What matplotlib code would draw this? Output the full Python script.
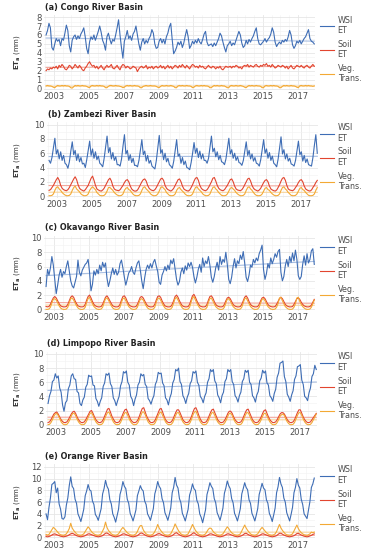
import numpy as np
import matplotlib.pyplot as plt
from matplotlib.ticker import MultipleLocator

# monthly values, Jul 2002 .. Dec 2017 (one row per year)
congo_wsi = [
    6.0, 6.5, 7.3, 6.8, 4.6, 4.3,
    5.0, 5.6, 5.3, 5.5, 4.8, 5.6, 5.4, 6.2, 7.1, 6.5, 4.8, 4.1,
    5.4, 5.8, 6.0, 5.5, 5.9, 5.6, 6.1, 6.4, 6.8, 5.8, 4.5, 3.9,
    5.2, 5.8, 5.5, 6.0, 5.4, 5.9, 6.4, 7.0, 6.3, 5.4, 5.0, 4.3,
    5.8, 6.2, 5.5, 5.0, 5.5, 5.3, 6.0, 6.8, 7.7, 6.0, 4.6, 3.4,
    5.3, 5.8, 6.5, 5.6, 5.9, 5.4, 6.1, 6.4, 7.0, 6.0, 5.0, 4.3,
    5.2, 5.6, 5.0, 5.4, 5.1, 5.6, 5.9, 6.6, 6.2, 5.0, 4.5, 4.6,
    5.3, 5.6, 5.1, 5.5, 5.0, 5.8, 6.2, 6.9, 7.3, 5.5, 3.9, 4.2,
    4.6, 5.2, 4.9, 5.3, 4.6, 5.1, 5.9, 6.6, 5.8, 4.5, 4.8, 5.3,
    5.0, 5.4, 5.1, 5.6, 5.2, 5.0, 5.5, 6.1, 6.4, 5.2, 4.8, 4.9,
    5.0, 4.7, 5.1, 4.8, 5.2, 5.6, 6.2, 5.9, 5.2, 4.6, 4.1, 4.8,
    5.0, 5.3, 4.8, 5.1, 4.9, 5.4, 5.9, 6.4, 6.0, 5.1, 4.6, 4.8,
    5.4, 5.0, 5.5, 5.2, 5.6, 5.9, 6.4, 6.8, 5.6, 5.0, 4.9, 5.1,
    5.3, 5.6, 5.2, 5.5, 5.7, 6.1, 6.8, 6.3, 5.2, 4.7, 5.0, 5.2,
    5.0, 5.4, 5.2, 5.5, 5.3, 5.8, 6.5, 6.0, 4.9, 4.5, 4.8, 5.3,
    5.1, 5.4, 5.0, 5.3, 5.6, 5.8, 6.2, 6.6, 5.6, 5.3, 5.2, 5.0,
]
congo_soil = [
    2.0, 2.2, 2.1, 2.3, 2.2, 2.4,
    2.3, 2.5, 2.2, 2.6, 2.4, 2.7, 2.5, 2.2, 2.1, 2.3, 2.6, 2.5,
    2.2, 2.4, 2.7, 2.5, 2.3, 2.6, 2.4, 2.1, 2.0, 2.3, 2.5, 2.8,
    3.0, 2.7, 2.5, 2.6, 2.3, 2.5, 2.2, 2.4, 2.6, 2.3, 2.1, 2.4,
    2.6, 2.4, 2.5, 2.7, 2.3, 2.2, 2.4, 2.6, 2.3, 2.1, 2.5, 2.7,
    2.6, 2.3, 2.5, 2.4, 2.2, 2.3, 2.5, 2.4, 2.3, 1.9, 2.2, 2.4,
    2.5, 2.3, 2.4, 2.6, 2.2, 2.4, 2.3, 2.5, 2.2, 2.4, 2.5, 2.3,
    2.4, 2.6, 2.3, 2.5, 2.2, 2.4, 2.6, 2.3, 2.5, 2.2, 2.4, 2.6,
    2.5, 2.3, 2.6, 2.4, 2.7, 2.5, 2.3, 2.6, 2.4, 2.2, 2.5, 2.7,
    2.6, 2.4, 2.5, 2.3, 2.6, 2.4, 2.5, 2.3, 2.2, 2.4, 2.6, 2.4,
    2.3, 2.5, 2.4, 2.2, 2.4, 2.3, 2.5, 2.2, 2.1, 2.3, 2.5, 2.4,
    2.4, 2.5, 2.3, 2.5, 2.4, 2.6, 2.5, 2.3, 2.4, 2.2, 2.5, 2.6,
    2.5, 2.7, 2.4, 2.6, 2.5, 2.4, 2.6, 2.7, 2.5, 2.4, 2.6, 2.5,
    2.7, 2.6, 2.8, 2.5, 2.6, 2.4, 2.7, 2.5, 2.3, 2.4, 2.6, 2.5,
    2.4, 2.6, 2.5, 2.3, 2.5, 2.2, 2.4, 2.6, 2.3, 2.2, 2.4, 2.6,
    2.5, 2.4, 2.6, 2.4, 2.3, 2.5, 2.6, 2.4, 2.3, 2.5, 2.7, 2.5,
]
congo_veg = [
    0.3, 0.35, 0.3, 0.3, 0.25, 0.15,
    0.1, 0.25, 0.35, 0.3, 0.3, 0.35, 0.3, 0.35, 0.3, 0.3, 0.25, 0.1,
    0.05, 0.2, 0.35, 0.3, 0.35, 0.3, 0.3, 0.35, 0.3, 0.3, 0.25, 0.15,
    0.1, 0.3, 0.35, 0.3, 0.3, 0.35, 0.3, 0.35, 0.3, 0.3, 0.25, 0.1,
    0.1, 0.25, 0.35, 0.35, 0.3, 0.3, 0.35, 0.3, 0.3, 0.25, 0.2, 0.1,
    0.15, 0.3, 0.35, 0.3, 0.35, 0.3, 0.3, 0.35, 0.3, 0.3, 0.25, 0.1,
    0.1, 0.25, 0.3, 0.35, 0.3, 0.3, 0.35, 0.3, 0.3, 0.3, 0.25, 0.15,
    0.1, 0.25, 0.35, 0.3, 0.3, 0.35, 0.3, 0.3, 0.35, 0.3, 0.25, 0.1,
    0.1, 0.3, 0.35, 0.3, 0.35, 0.3, 0.3, 0.35, 0.3, 0.3, 0.25, 0.1,
    0.15, 0.3, 0.35, 0.3, 0.3, 0.35, 0.3, 0.35, 0.3, 0.3, 0.25, 0.1,
    0.1, 0.25, 0.35, 0.3, 0.35, 0.3, 0.3, 0.35, 0.3, 0.3, 0.2, 0.1,
    0.1, 0.3, 0.35, 0.3, 0.3, 0.35, 0.3, 0.3, 0.35, 0.3, 0.25, 0.15,
    0.1, 0.25, 0.35, 0.3, 0.35, 0.3, 0.3, 0.35, 0.3, 0.3, 0.25, 0.1,
    0.1, 0.3, 0.35, 0.3, 0.3, 0.35, 0.3, 0.35, 0.3, 0.3, 0.25, 0.1,
    0.1, 0.25, 0.35, 0.3, 0.35, 0.3, 0.3, 0.35, 0.3, 0.3, 0.25, 0.15,
    0.1, 0.3, 0.35, 0.3, 0.3, 0.35, 0.3, 0.35, 0.3, 0.3, 0.25, 0.3,
]

zambezi_wsi = [
    5.0, 4.6, 5.4, 6.8, 8.1, 5.9,
    6.5, 5.2, 6.2, 5.0, 5.7, 4.6, 4.4, 3.9, 4.8, 6.3, 7.6, 5.8,
    6.4, 5.0, 5.9, 4.8, 5.4, 4.5, 4.6, 4.0, 5.1, 6.4, 7.7, 5.7,
    6.6, 5.3, 6.2, 5.1, 5.6, 4.6, 4.4, 4.1, 5.3, 6.9, 8.4, 6.1,
    6.8, 5.2, 6.1, 5.0, 5.5, 4.4, 4.4, 4.2, 5.2, 7.0, 8.6, 5.9,
    6.4, 5.0, 5.8, 4.7, 5.3, 4.3, 4.3, 4.1, 5.0, 6.5, 7.9, 5.8,
    6.3, 4.9, 5.7, 4.6, 5.0, 4.2, 4.0, 3.8, 5.0, 6.8, 8.5, 6.0,
    6.5, 5.1, 6.0, 4.8, 5.3, 4.4, 4.2, 3.9, 4.9, 6.4, 7.9, 5.6,
    5.9, 4.6, 5.4, 4.4, 4.9, 4.0, 3.9, 3.7, 4.7, 6.0, 7.5, 6.0,
    6.7, 5.4, 6.3, 5.2, 5.9, 5.0, 5.0, 4.6, 5.3, 6.8, 8.4, 6.2,
    6.7, 5.5, 6.2, 5.1, 5.7, 4.8, 4.7, 4.4, 5.2, 6.6, 8.1, 5.9,
    6.5, 5.3, 6.0, 5.0, 5.5, 4.7, 4.6, 4.3, 5.0, 6.3, 7.6, 5.7,
    6.4, 5.2, 5.9, 4.9, 5.4, 4.6, 4.5, 4.2, 5.1, 6.5, 7.9, 6.0,
    6.6, 5.3, 6.1, 5.0, 5.6, 4.6, 4.4, 4.1, 5.2, 6.8, 8.3, 5.9,
    6.5, 5.2, 5.9, 4.9, 5.3, 4.5, 4.4, 4.2, 5.0, 6.3, 7.7, 5.8,
    6.2, 4.9, 5.7, 4.7, 5.2, 4.4, 4.3, 4.2, 5.4, 7.1, 8.6, 6.0,
]
zambezi_soil = [
    0.8, 0.9, 1.2, 1.5, 1.9, 2.3,
    2.6, 2.2, 1.5, 1.1, 0.9, 0.8, 0.75, 0.9, 1.2, 1.6, 2.0, 2.4,
    2.7, 2.3, 1.6, 1.1, 0.9, 0.8, 0.7, 0.9, 1.2, 1.5, 2.0, 2.5,
    2.8, 2.2, 1.5, 1.0, 0.85, 0.75, 0.7, 0.85, 1.1, 1.5, 1.9, 2.3,
    2.5, 2.1, 1.4, 1.0, 0.85, 0.8, 0.75, 0.9, 1.2, 1.5, 1.9, 2.2,
    2.3, 2.0, 1.4, 1.0, 0.8, 0.7, 0.7, 0.85, 1.2, 1.6, 2.0, 2.3,
    2.4, 2.1, 1.5, 1.1, 0.9, 0.8, 0.75, 0.9, 1.2, 1.6, 2.0, 2.4,
    2.5, 2.2, 1.5, 1.1, 0.9, 0.8, 0.7, 0.85, 1.1, 1.5, 1.9, 2.3,
    2.4, 2.0, 1.4, 1.0, 0.85, 0.75, 0.7, 0.85, 1.2, 1.6, 2.1, 2.5,
    2.6, 2.2, 1.5, 1.1, 0.9, 0.8, 0.75, 0.9, 1.2, 1.6, 2.0, 2.5,
    2.6, 2.1, 1.5, 1.1, 0.9, 0.8, 0.75, 0.9, 1.2, 1.5, 1.9, 2.3,
    2.4, 2.0, 1.4, 1.0, 0.85, 0.8, 0.75, 0.9, 1.2, 1.6, 2.0, 2.4,
    2.5, 2.1, 1.5, 1.1, 0.9, 0.8, 0.7, 0.85, 1.1, 1.5, 1.9, 2.2,
    2.3, 2.0, 1.4, 1.0, 0.85, 0.75, 0.7, 0.85, 1.2, 1.6, 2.1, 2.5,
    2.6, 2.2, 1.5, 1.0, 0.85, 0.8, 0.75, 0.9, 1.2, 1.5, 1.9, 2.2,
    2.3, 2.0, 1.4, 1.0, 0.85, 0.75, 0.7, 0.85, 1.2, 1.5, 1.9, 2.2,
]
zambezi_veg = [
    0.05, 0.05, 0.1, 0.3, 0.8, 1.2,
    1.3, 1.0, 0.8, 0.5, 0.3, 0.15, 0.05, 0.05, 0.1, 0.3, 0.8, 1.2,
    1.4, 1.0, 0.8, 0.6, 0.3, 0.15, 0.05, 0.05, 0.1, 0.3, 0.8, 1.1,
    1.3, 1.1, 0.9, 0.5, 0.3, 0.1, 0.05, 0.05, 0.1, 0.3, 0.7, 1.2,
    1.2, 1.0, 0.8, 0.5, 0.3, 0.15, 0.05, 0.05, 0.1, 0.3, 0.8, 1.1,
    1.2, 0.9, 0.8, 0.5, 0.25, 0.1, 0.05, 0.05, 0.1, 0.3, 0.8, 1.2,
    1.3, 1.0, 0.8, 0.6, 0.3, 0.15, 0.05, 0.05, 0.1, 0.3, 0.7, 1.2,
    1.3, 1.1, 0.9, 0.5, 0.3, 0.1, 0.05, 0.05, 0.1, 0.3, 0.8, 1.1,
    1.2, 0.9, 0.7, 0.5, 0.25, 0.1, 0.05, 0.05, 0.1, 0.3, 0.8, 1.2,
    1.3, 1.0, 0.8, 0.6, 0.3, 0.15, 0.05, 0.05, 0.1, 0.3, 0.8, 1.2,
    1.3, 1.0, 0.8, 0.5, 0.3, 0.1, 0.05, 0.05, 0.1, 0.3, 0.7, 1.1,
    1.2, 1.0, 0.8, 0.5, 0.3, 0.15, 0.05, 0.05, 0.1, 0.3, 0.8, 1.2,
    1.3, 1.0, 0.8, 0.5, 0.25, 0.1, 0.05, 0.05, 0.1, 0.3, 0.7, 1.1,
    1.2, 0.9, 0.8, 0.5, 0.3, 0.15, 0.05, 0.05, 0.1, 0.3, 0.8, 1.2,
    1.3, 1.0, 0.8, 0.5, 0.3, 0.1, 0.05, 0.05, 0.1, 0.3, 0.7, 1.1,
    1.2, 0.9, 0.8, 0.5, 0.3, 0.1, 0.05, 0.05, 0.1, 0.3, 0.8, 1.2,
]

okavango_wsi = [
    3.2, 5.6, 4.8, 5.8, 7.4, 6.2,
    4.2, 2.2, 3.4, 4.8, 5.6, 4.5, 5.3, 5.0, 6.0, 6.8, 5.4, 4.0,
    3.3, 3.0, 3.8, 4.6, 6.9, 5.2, 4.7, 5.5, 5.9, 6.3, 6.5, 7.0,
    5.2, 2.6, 3.5, 5.4, 4.8, 5.6, 5.0, 6.2, 5.4, 6.6, 5.9, 6.5,
    4.4, 3.2, 4.0, 5.0, 5.8, 4.9, 5.6, 4.8, 5.2, 6.4, 6.9, 5.8,
    4.5, 3.4, 4.2, 5.1, 5.4, 6.0, 5.2, 4.9, 5.8, 6.5, 6.8, 5.5,
    4.0, 2.9, 4.4, 5.6, 6.2, 5.7, 6.4, 5.8, 6.6, 7.0, 6.1, 5.3,
    3.8, 3.5, 4.8, 5.3, 6.0, 5.4, 6.2, 5.6, 6.9, 6.4, 7.1, 5.6,
    4.2, 3.4, 3.9, 5.2, 5.8, 5.0, 6.1, 5.5, 6.5, 6.0, 6.6, 5.9,
    4.6, 3.7, 4.5, 5.6, 6.3, 5.2, 7.2, 6.0, 6.8, 6.4, 7.4, 6.2,
    4.5, 3.8, 4.6, 5.8, 6.6, 5.5, 7.4, 6.3, 7.0, 6.6, 8.0, 6.3,
    4.2, 3.6, 4.5, 6.0, 7.1, 5.8, 6.8, 6.4, 7.6, 7.0, 8.1, 6.5,
    4.5, 3.9, 4.8, 6.2, 5.9, 7.0, 6.5, 7.2, 6.8, 7.8, 8.3, 9.0,
    5.6, 4.2, 5.0, 6.4, 5.8, 7.2, 6.4, 7.0, 7.8, 7.3, 8.1, 8.4,
    5.2, 4.0, 4.6, 6.1, 7.0, 6.0, 7.4, 6.6, 7.9, 6.8, 8.3, 7.0,
    4.7, 4.2, 4.6, 6.3, 7.5, 6.2, 7.8, 6.5, 7.0, 8.2, 8.5, 6.3,
]
okavango_soil = [
    0.4, 0.35, 0.4, 0.7, 1.2, 1.6,
    1.8, 1.6, 1.2, 0.8, 0.5, 0.4, 0.35, 0.35, 0.4, 0.7, 1.2, 1.7,
    1.9, 1.7, 1.2, 0.8, 0.5, 0.4, 0.35, 0.35, 0.4, 0.7, 1.3, 1.8,
    2.0, 1.6, 1.1, 0.7, 0.5, 0.4, 0.35, 0.35, 0.4, 0.7, 1.2, 1.7,
    1.9, 1.6, 1.2, 0.8, 0.5, 0.4, 0.35, 0.35, 0.4, 0.7, 1.3, 1.8,
    1.9, 1.6, 1.1, 0.7, 0.5, 0.4, 0.35, 0.35, 0.4, 0.7, 1.2, 1.7,
    1.8, 1.6, 1.2, 0.8, 0.5, 0.4, 0.35, 0.35, 0.4, 0.7, 1.3, 1.8,
    1.9, 1.7, 1.2, 0.8, 0.5, 0.4, 0.35, 0.35, 0.4, 0.7, 1.2, 1.8,
    2.0, 1.7, 1.2, 0.8, 0.5, 0.4, 0.35, 0.35, 0.4, 0.7, 1.3, 1.9,
    2.1, 1.7, 1.2, 0.8, 0.5, 0.4, 0.35, 0.35, 0.4, 0.7, 1.3, 1.8,
    1.9, 1.6, 1.1, 0.7, 0.5, 0.4, 0.35, 0.35, 0.4, 0.7, 1.2, 1.6,
    1.7, 1.5, 1.1, 0.7, 0.5, 0.4, 0.35, 0.35, 0.4, 0.7, 1.2, 1.7,
    1.9, 1.6, 1.1, 0.7, 0.5, 0.4, 0.35, 0.35, 0.4, 0.7, 1.2, 1.6,
    1.7, 1.5, 1.1, 0.7, 0.5, 0.4, 0.35, 0.35, 0.4, 0.7, 1.1, 1.5,
    1.7, 1.5, 1.1, 0.7, 0.5, 0.4, 0.35, 0.35, 0.4, 0.7, 1.1, 1.5,
    1.6, 1.4, 1.0, 0.7, 0.5, 0.4, 0.35, 0.35, 0.4, 0.6, 1.0, 1.4,
]
okavango_veg = [
    0.0, 0.0, 0.05, 0.3, 0.9, 1.4,
    1.5, 1.3, 0.9, 0.5, 0.2, 0.05, 0.0, 0.0, 0.05, 0.3, 0.9, 1.5,
    1.6, 1.3, 0.9, 0.5, 0.2, 0.05, 0.0, 0.0, 0.05, 0.3, 1.0, 1.5,
    1.7, 1.2, 0.8, 0.4, 0.2, 0.05, 0.0, 0.0, 0.05, 0.3, 0.9, 1.5,
    1.6, 1.3, 0.9, 0.5, 0.2, 0.05, 0.0, 0.0, 0.05, 0.3, 1.0, 1.5,
    1.6, 1.2, 0.8, 0.4, 0.2, 0.05, 0.0, 0.0, 0.05, 0.3, 0.9, 1.4,
    1.5, 1.3, 0.9, 0.5, 0.2, 0.05, 0.0, 0.0, 0.05, 0.3, 1.0, 1.5,
    1.6, 1.3, 0.9, 0.5, 0.2, 0.05, 0.0, 0.0, 0.05, 0.3, 0.9, 1.5,
    1.7, 1.3, 0.9, 0.5, 0.2, 0.05, 0.0, 0.0, 0.05, 0.3, 1.0, 1.6,
    1.8, 1.3, 0.9, 0.5, 0.2, 0.05, 0.0, 0.0, 0.05, 0.3, 1.0, 1.5,
    1.6, 1.2, 0.8, 0.4, 0.2, 0.05, 0.0, 0.0, 0.05, 0.3, 0.9, 1.4,
    1.5, 1.2, 0.8, 0.4, 0.2, 0.05, 0.0, 0.0, 0.05, 0.3, 0.9, 1.5,
    1.6, 1.2, 0.8, 0.4, 0.2, 0.05, 0.0, 0.0, 0.05, 0.3, 0.9, 1.4,
    1.5, 1.2, 0.8, 0.4, 0.2, 0.05, 0.0, 0.0, 0.05, 0.3, 0.8, 1.6,
    1.7, 1.2, 0.8, 0.4, 0.2, 0.05, 0.0, 0.0, 0.05, 0.3, 0.8, 1.6,
    1.7, 1.1, 0.7, 0.4, 0.2, 0.05, 0.0, 0.0, 0.05, 0.3, 0.8, 1.3,
]

limpopo_wsi = [
    3.0, 4.1, 4.7, 6.1, 6.3, 7.2,
    6.6, 6.9, 5.2, 4.6, 2.8, 1.9, 3.1, 3.4, 5.1, 5.6, 6.9, 7.2,
    6.5, 6.4, 4.7, 4.5, 3.0, 2.7, 3.5, 3.9, 5.3, 5.7, 7.0, 6.8,
    6.9, 5.6, 5.5, 3.7, 3.3, 2.6, 3.3, 3.8, 5.4, 5.9, 7.2, 7.0,
    7.3, 5.8, 5.4, 3.8, 3.4, 2.7, 3.4, 4.0, 5.5, 6.1, 7.5, 7.3,
    7.6, 6.0, 5.6, 4.0, 3.6, 2.7, 3.6, 4.2, 5.6, 6.0, 7.2, 6.9,
    7.1, 5.7, 5.4, 3.7, 3.4, 2.9, 3.6, 4.1, 5.7, 6.2, 7.4, 7.2,
    7.3, 5.9, 5.5, 3.8, 3.5, 2.8, 3.8, 4.4, 5.9, 6.4, 7.8, 7.6,
    8.0, 6.1, 5.7, 4.1, 3.7, 3.0, 3.9, 4.4, 5.8, 6.2, 7.5, 7.3,
    7.6, 6.0, 5.6, 4.0, 3.7, 3.1, 4.0, 4.5, 6.0, 6.5, 7.8, 7.5,
    7.8, 6.2, 5.8, 4.2, 3.8, 3.1, 4.1, 4.6, 6.1, 6.5, 7.8, 7.5,
    7.8, 6.1, 5.7, 4.1, 3.8, 3.2, 4.1, 4.6, 6.1, 6.5, 7.7, 7.4,
    7.7, 6.0, 5.7, 4.1, 3.8, 3.2, 4.2, 4.7, 6.2, 6.6, 7.7, 7.3,
    7.6, 5.9, 5.6, 4.1, 3.8, 3.3, 4.4, 5.0, 6.7, 7.3, 8.7, 8.8,
    9.0, 6.8, 6.1, 4.3, 3.9, 3.3, 4.2, 4.8, 6.4, 6.9, 8.2, 8.3,
    8.5, 6.3, 5.7, 4.0, 3.8, 3.4, 4.5, 5.2, 6.8, 7.2, 8.4, 7.8,
]
limpopo_soil = [
    0.3, 0.4, 0.7, 1.1, 1.5, 1.7,
    1.8, 1.5, 1.1, 0.7, 0.45, 0.3, 0.3, 0.4, 0.7, 1.1, 1.5, 1.8,
    1.9, 1.6, 1.1, 0.7, 0.45, 0.3, 0.3, 0.4, 0.7, 1.1, 1.5, 1.9,
    2.0, 1.6, 1.1, 0.7, 0.45, 0.3, 0.3, 0.4, 0.7, 1.2, 1.7, 2.2,
    2.3, 1.8, 1.2, 0.8, 0.45, 0.3, 0.3, 0.4, 0.7, 1.2, 1.7, 2.1,
    2.2, 1.7, 1.2, 0.7, 0.45, 0.3, 0.3, 0.4, 0.7, 1.2, 1.8, 2.3,
    2.4, 1.8, 1.2, 0.8, 0.45, 0.3, 0.3, 0.4, 0.7, 1.2, 1.7, 2.2,
    2.3, 1.8, 1.2, 0.7, 0.45, 0.3, 0.3, 0.4, 0.7, 1.2, 1.7, 2.1,
    2.1, 1.7, 1.2, 0.7, 0.45, 0.3, 0.3, 0.4, 0.7, 1.2, 1.8, 2.3,
    2.4, 1.9, 1.3, 0.8, 0.45, 0.3, 0.3, 0.4, 0.7, 1.2, 1.7, 2.1,
    2.2, 1.7, 1.2, 0.7, 0.45, 0.3, 0.3, 0.4, 0.7, 1.1, 1.6, 1.9,
    1.9, 1.6, 1.1, 0.7, 0.45, 0.3, 0.3, 0.4, 0.7, 1.2, 1.7, 2.1,
    2.2, 1.7, 1.2, 0.7, 0.45, 0.3, 0.3, 0.4, 0.7, 1.1, 1.6, 2.0,
    2.1, 1.6, 1.1, 0.7, 0.45, 0.3, 0.3, 0.4, 0.7, 1.1, 1.5, 1.7,
    1.7, 1.5, 1.1, 0.7, 0.45, 0.3, 0.3, 0.4, 0.7, 1.2, 1.7, 2.1,
    2.1, 1.6, 1.1, 0.7, 0.45, 0.3, 0.3, 0.4, 0.7, 1.0, 1.3, 1.6,
]
limpopo_veg = [
    0.0, 0.05, 0.3, 0.7, 1.2, 1.5,
    1.6, 1.3, 0.9, 0.4, 0.15, 0.0, 0.0, 0.05, 0.3, 0.7, 1.2, 1.6,
    1.6, 1.3, 0.8, 0.4, 0.15, 0.0, 0.0, 0.05, 0.3, 0.7, 1.2, 1.6,
    1.7, 1.3, 0.8, 0.4, 0.15, 0.0, 0.0, 0.05, 0.3, 0.8, 1.3, 1.7,
    1.8, 1.3, 0.9, 0.4, 0.15, 0.0, 0.0, 0.05, 0.3, 0.8, 1.3, 1.7,
    1.7, 1.3, 0.8, 0.4, 0.15, 0.0, 0.0, 0.05, 0.3, 0.8, 1.3, 1.8,
    1.8, 1.4, 0.9, 0.4, 0.15, 0.0, 0.0, 0.05, 0.3, 0.8, 1.3, 1.7,
    1.8, 1.3, 0.9, 0.4, 0.15, 0.0, 0.0, 0.05, 0.3, 0.8, 1.3, 1.7,
    1.7, 1.3, 0.8, 0.4, 0.15, 0.0, 0.0, 0.05, 0.3, 0.8, 1.4, 1.8,
    1.9, 1.4, 0.9, 0.4, 0.15, 0.0, 0.0, 0.05, 0.3, 0.8, 1.3, 1.7,
    1.7, 1.3, 0.8, 0.4, 0.15, 0.0, 0.0, 0.05, 0.3, 0.7, 1.2, 1.6,
    1.6, 1.3, 0.8, 0.4, 0.15, 0.0, 0.0, 0.05, 0.3, 0.8, 1.3, 1.7,
    1.7, 1.3, 0.8, 0.4, 0.15, 0.0, 0.0, 0.05, 0.3, 0.7, 1.2, 1.6,
    1.6, 1.2, 0.8, 0.4, 0.15, 0.0, 0.0, 0.05, 0.3, 0.7, 1.2, 1.4,
    1.5, 1.3, 0.8, 0.4, 0.15, 0.0, 0.0, 0.05, 0.3, 0.8, 1.3, 1.7,
    1.7, 1.3, 0.8, 0.4, 0.15, 0.0, 0.0, 0.05, 0.3, 0.7, 1.1, 1.5,
]

orange_wsi = [
    4.0, 3.0, 5.1, 6.7, 9.0, 9.2,
    9.5, 7.6, 8.4, 5.7, 4.8, 3.2, 3.1, 3.5, 5.5, 6.7, 8.8, 10.3,
    8.7, 8.3, 6.5, 5.8, 4.0, 3.4, 2.7, 3.7, 4.8, 7.1, 7.9, 9.0,
    8.1, 7.9, 6.2, 5.6, 3.9, 3.5, 2.9, 3.9, 4.9, 7.4, 8.3, 9.7,
    8.7, 8.2, 6.4, 5.7, 4.0, 3.4, 2.6, 3.7, 4.8, 7.3, 8.2, 9.5,
    8.7, 8.3, 6.5, 5.8, 4.1, 3.5, 2.8, 3.7, 4.7, 7.1, 7.9, 8.8,
    8.2, 7.9, 6.2, 5.6, 4.0, 3.5, 2.9, 3.9, 4.9, 7.4, 8.3, 9.5,
    8.7, 8.3, 6.6, 5.9, 4.2, 3.6, 2.9, 3.9, 5.0, 7.6, 8.5, 10.2,
    8.9, 8.4, 6.6, 5.9, 4.1, 3.5, 2.8, 3.8, 4.8, 7.2, 8.0, 9.1,
    8.3, 8.0, 6.3, 5.7, 4.0, 3.4, 2.5, 3.6, 4.7, 7.3, 8.2, 9.3,
    8.7, 8.3, 6.6, 5.9, 4.2, 3.6, 2.9, 3.9, 5.0, 7.5, 8.4, 9.6,
    8.8, 8.3, 6.6, 5.9, 4.1, 3.5, 2.8, 3.8, 4.9, 7.4, 8.3, 9.3,
    8.5, 8.1, 6.4, 5.8, 4.1, 3.5, 2.8, 3.8, 4.9, 7.3, 8.2, 9.2,
    8.4, 8.1, 6.4, 5.8, 4.1, 3.5, 2.7, 3.8, 5.0, 7.6, 8.6, 10.2,
    9.1, 8.5, 6.7, 6.0, 4.2, 3.5, 2.8, 3.9, 5.1, 7.6, 8.5, 10.0,
    8.9, 8.4, 6.5, 5.6, 4.0, 3.6, 3.2, 4.6, 6.1, 8.5, 9.1, 10.1,
]
orange_soil = [
    0.15, 0.1, 0.15, 0.25, 0.4, 0.55,
    0.6, 0.5, 0.4, 0.3, 0.2, 0.15, 0.1, 0.15, 0.2, 0.3, 0.45, 0.6,
    0.7, 0.6, 0.45, 0.3, 0.2, 0.15, 0.1, 0.15, 0.2, 0.3, 0.45, 0.6,
    0.6, 0.5, 0.4, 0.3, 0.2, 0.15, 0.1, 0.15, 0.2, 0.3, 0.5, 0.7,
    0.75, 0.6, 0.45, 0.3, 0.2, 0.15, 0.1, 0.15, 0.2, 0.3, 0.45, 0.6,
    0.6, 0.5, 0.4, 0.3, 0.2, 0.15, 0.1, 0.15, 0.2, 0.3, 0.5, 0.7,
    0.75, 0.6, 0.45, 0.3, 0.2, 0.15, 0.1, 0.15, 0.2, 0.3, 0.45, 0.6,
    0.65, 0.55, 0.4, 0.3, 0.2, 0.15, 0.1, 0.15, 0.2, 0.3, 0.5, 0.7,
    0.8, 0.6, 0.45, 0.3, 0.2, 0.15, 0.1, 0.15, 0.2, 0.3, 0.45, 0.65,
    0.8, 0.6, 0.45, 0.3, 0.2, 0.15, 0.1, 0.15, 0.2, 0.3, 0.45, 0.6,
    0.6, 0.5, 0.4, 0.3, 0.2, 0.15, 0.1, 0.15, 0.2, 0.3, 0.45, 0.6,
    0.6, 0.5, 0.4, 0.3, 0.2, 0.15, 0.1, 0.15, 0.2, 0.3, 0.45, 0.65,
    0.7, 0.55, 0.4, 0.3, 0.2, 0.15, 0.1, 0.15, 0.2, 0.3, 0.45, 0.6,
    0.6, 0.5, 0.4, 0.3, 0.2, 0.15, 0.1, 0.15, 0.2, 0.3, 0.5, 0.7,
    0.7, 0.55, 0.4, 0.3, 0.2, 0.15, 0.1, 0.15, 0.2, 0.3, 0.45, 0.65,
    0.7, 0.55, 0.4, 0.3, 0.2, 0.15, 0.1, 0.15, 0.25, 0.35, 0.5, 0.6,
]
orange_veg = [
    0.5, 0.4, 0.5, 0.9, 1.3, 1.7,
    1.5, 1.2, 0.9, 0.6, 0.45, 0.4, 0.35, 0.45, 0.6, 1.0, 1.5, 2.4,
    1.6, 1.2, 0.9, 0.6, 0.45, 0.4, 0.35, 0.45, 0.6, 1.0, 1.4, 1.8,
    1.5, 1.1, 0.8, 0.6, 0.45, 0.4, 0.35, 0.45, 0.6, 1.1, 1.6, 2.6,
    1.7, 1.2, 0.9, 0.6, 0.45, 0.4, 0.35, 0.45, 0.6, 1.0, 1.4, 1.7,
    1.4, 1.1, 0.8, 0.6, 0.45, 0.4, 0.35, 0.45, 0.6, 1.0, 1.6, 2.0,
    2.0, 1.3, 0.9, 0.6, 0.45, 0.4, 0.35, 0.45, 0.6, 1.0, 1.5, 2.2,
    1.6, 1.2, 0.9, 0.6, 0.45, 0.4, 0.35, 0.45, 0.6, 1.1, 1.6, 2.3,
    1.8, 1.3, 0.9, 0.6, 0.45, 0.4, 0.35, 0.45, 0.6, 1.1, 1.6, 2.2,
    1.7, 1.2, 0.9, 0.6, 0.45, 0.4, 0.35, 0.45, 0.6, 1.0, 1.4, 1.6,
    1.5, 1.1, 0.8, 0.6, 0.45, 0.4, 0.35, 0.45, 0.6, 1.0, 1.4, 1.8,
    1.5, 1.1, 0.8, 0.6, 0.45, 0.4, 0.35, 0.45, 0.6, 1.1, 1.6, 2.1,
    1.6, 1.2, 0.9, 0.6, 0.45, 0.4, 0.35, 0.45, 0.6, 1.0, 1.4, 1.7,
    1.4, 1.1, 0.8, 0.6, 0.45, 0.4, 0.35, 0.45, 0.6, 1.0, 1.6, 2.2,
    1.6, 1.2, 0.9, 0.6, 0.45, 0.4, 0.35, 0.45, 0.6, 1.1, 1.6, 2.1,
    1.5, 1.1, 0.8, 0.6, 0.45, 0.4, 0.35, 0.45, 0.6, 0.9, 0.8, 0.9,
]

titles = ["(a) Congo River Basin", "(b) Zambezi River Basin",
          "(c) Okavango River Basin", "(d) Limpopo River Basin",
          "(e) Orange River Basin"]
series = [
    (congo_wsi, congo_soil, congo_veg),
    (zambezi_wsi, zambezi_soil, zambezi_veg),
    (okavango_wsi, okavango_soil, okavango_veg),
    (limpopo_wsi, limpopo_soil, limpopo_veg),
    (orange_wsi, orange_soil, orange_veg),
]
labels = ["WSI\nET", "Soil\nET", "Veg.\nTrans."]
colors = ["#3E6DB5", "#E2452F", "#F3A935"]
trend_colors = ["#A9BFE2", "#F2A79C", "#F8D49C"]

# panel geometry in pixels: (axes top, axes bottom, y max, y major step, x shift)
W, H = 366, 550
panels = [
    (14.6, 90.0, 8, 1, 0),
    (122.2, 197.5, 10, 2, 3),
    (235.5, 310.8, 10, 2, 0),
    (351.5, 426.1, 10, 2, 2),
    (464.4, 538.8, 12, 2, 0),
]

fig = plt.figure(figsize=(W / 100, H / 100), dpi=100)
n = len(congo_wsi)
t = 2002.5 + (np.arange(n) + 0.5) / 12

for k, (top, bot, ymax, step, dx) in enumerate(panels):
    left = 43.6 + dx
    ax = fig.add_axes([left / W, 1 - bot / H, 271.4 / W, (bot - top) / H])
    for vals, tc in zip(series[k], trend_colors):
        p = np.polyfit(t, np.array(vals), 1)
        ax.plot(t, np.polyval(p, t), color=tc, lw=0.8, zorder=1)
    for vals, c, lab in zip(series[k], colors, labels):
        ax.plot(t, vals, color=c, lw=0.8, label=lab, zorder=2)
    ax.set_xlim(2002.4, 2018.0)
    ax.set_ylim(-ymax * 0.02, ymax * 1.035)
    ax.set_xticks(range(2003, 2018, 2))
    ax.set_xticks(np.arange(2002.5, 2018.0, 0.5), minor=True)
    ax.yaxis.set_major_locator(MultipleLocator(step))
    ax.yaxis.set_minor_locator(MultipleLocator(step / 2))
    ax.grid(which="major", color="#E6E6E6", lw=0.6)
    ax.grid(which="minor", color="#F2F2F2", lw=0.4)
    ax.set_axisbelow(True)
    for s in ax.spines.values():
        s.set_visible(False)
    ax.tick_params(which="both", length=0, labelsize=6, colors="#4D4D4D", pad=1.5)
    fig.legend(handles=ax.get_lines()[3:], loc="upper left",
               bbox_to_anchor=(320 / W, 1 - (top + 1) / H), frameon=False,
               fontsize=5.8, handlelength=1.7, handletextpad=0.5,
               labelspacing=0.6, labelcolor="#4D4D4D",
               borderpad=0, borderaxespad=0)
    fig.text((left + 1) / W, 1 - (top - 7.5) / H, titles[k], fontsize=5.8,
             fontweight="bold", va="center", ha="left", color="#222222")
    fig.text(17 / W, 1 - ((top + bot) / 2) / H, r"$\mathbf{ET_a}$ (mm)",
             rotation=90, fontsize=5, va="center", ha="center", color="#333333")

fig.savefig("out.png", dpi=100)
